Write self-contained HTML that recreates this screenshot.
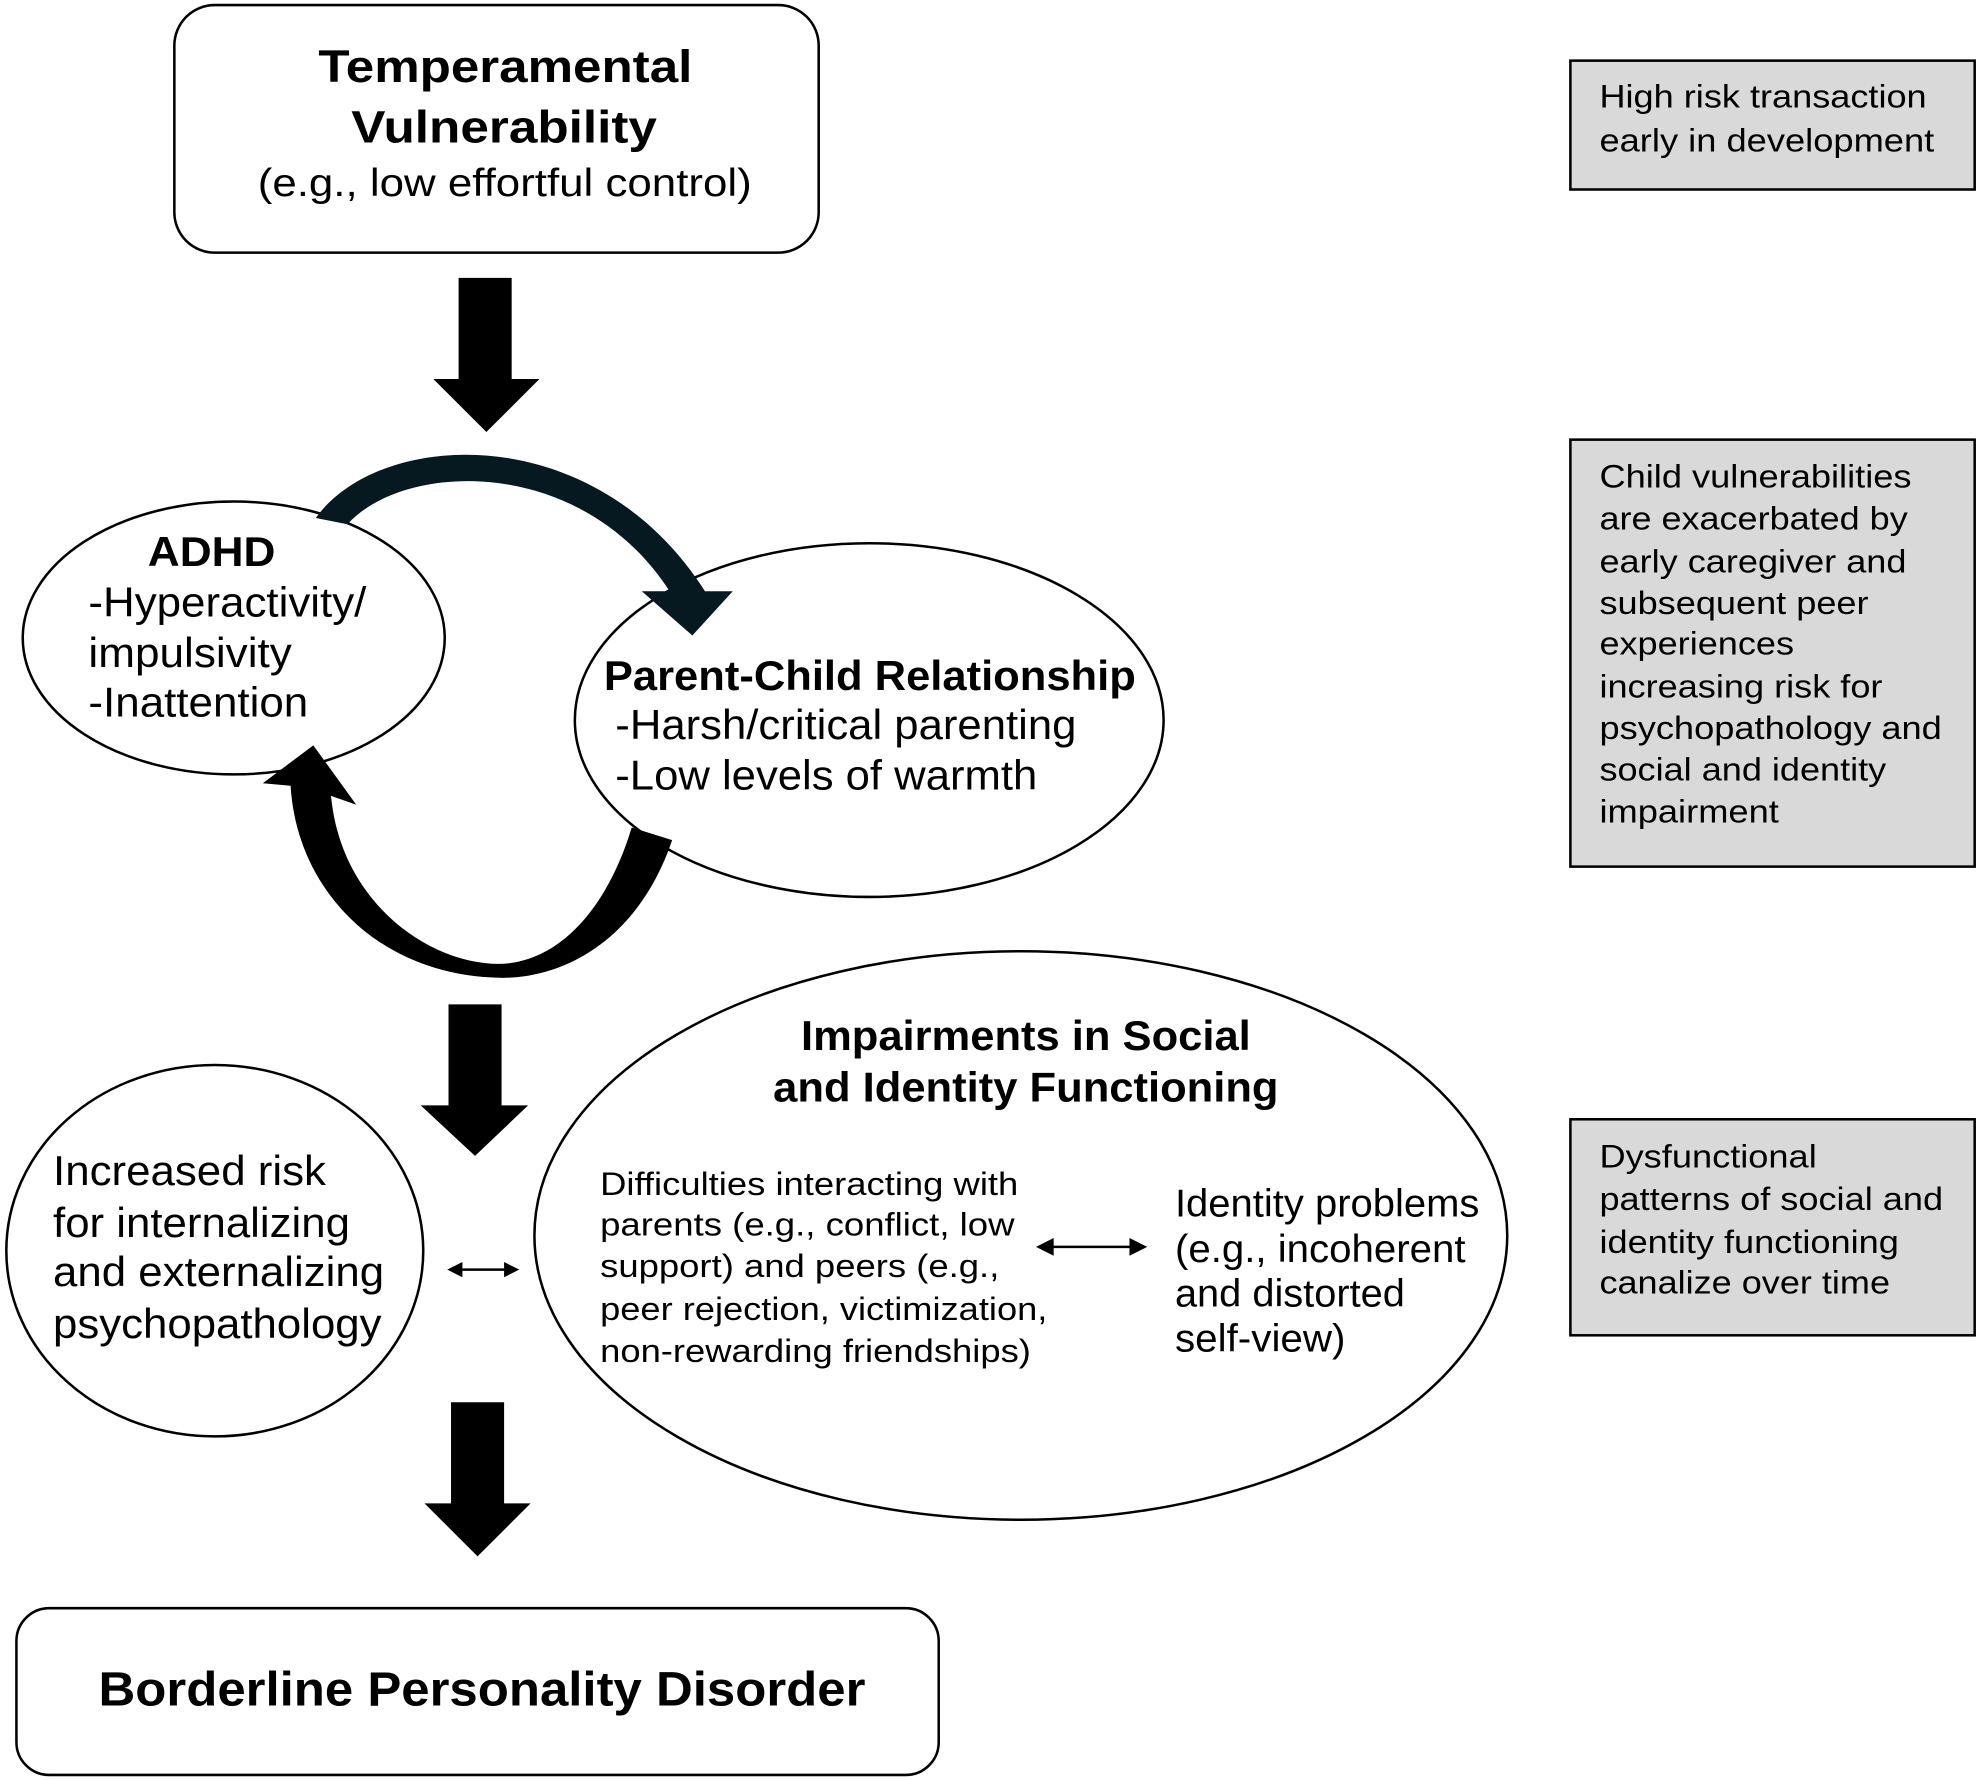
<!DOCTYPE html>
<html><head><meta charset="utf-8"><style>
html,body{margin:0;padding:0;background:#fff;}
svg{display:block;}
text{font-family:"Liberation Sans",Arial,sans-serif;fill:#000;}
.b{font-weight:bold;}
</style></head><body>
<svg width="1981" height="1780" viewBox="0 0 1568 1409" preserveAspectRatio="none" xmlns="http://www.w3.org/2000/svg">
<rect x="0" y="0" width="1568" height="1409" fill="#fff"/>
<rect x="138" y="4" width="510" height="196" rx="32" fill="#fff" stroke="#000" stroke-width="2"/>
<text class="b" x="252" y="65" font-size="36" textLength="296" lengthAdjust="spacingAndGlyphs">Temperamental</text>
<text class="b" x="278" y="113" font-size="36" textLength="242" lengthAdjust="spacingAndGlyphs">Vulnerability</text>
<text x="204" y="155" font-size="31" textLength="391" lengthAdjust="spacingAndGlyphs">(e.g., low effortful control)</text>
<polygon points="363,220 405,220 405,300 427,300 385,342 343,300 363,300" fill="#000"/>
<rect x="1243" y="48" width="320" height="102" fill="#d9d9d9" stroke="#000" stroke-width="2"/>
<text x="1266" y="85" font-size="26" textLength="259" lengthAdjust="spacingAndGlyphs">High risk transaction</text>
<text x="1266" y="120" font-size="26" textLength="265" lengthAdjust="spacingAndGlyphs">early in development</text>
<rect x="1243" y="348" width="320" height="338" fill="#d9d9d9" stroke="#000" stroke-width="2"/>
<g font-size="26">
<text x="1266" y="386" textLength="247" lengthAdjust="spacingAndGlyphs">Child vulnerabilities</text>
<text x="1266" y="419" textLength="244" lengthAdjust="spacingAndGlyphs">are exacerbated by</text>
<text x="1266" y="453" textLength="243" lengthAdjust="spacingAndGlyphs">early caregiver and</text>
<text x="1266" y="486" textLength="213" lengthAdjust="spacingAndGlyphs">subsequent peer</text>
<text x="1266" y="518" textLength="154" lengthAdjust="spacingAndGlyphs">experiences</text>
<text x="1266" y="552" textLength="224" lengthAdjust="spacingAndGlyphs">increasing risk for</text>
<text x="1266" y="585" textLength="271" lengthAdjust="spacingAndGlyphs">psychopathology and</text>
<text x="1266" y="618" textLength="227" lengthAdjust="spacingAndGlyphs">social and identity</text>
<text x="1266" y="651" textLength="142" lengthAdjust="spacingAndGlyphs">impairment</text>
</g>
<rect x="1243" y="886" width="320" height="171" fill="#d9d9d9" stroke="#000" stroke-width="2"/>
<g font-size="26">
<text x="1266" y="924" textLength="172" lengthAdjust="spacingAndGlyphs">Dysfunctional</text>
<text x="1266" y="958" textLength="272" lengthAdjust="spacingAndGlyphs">patterns of social and</text>
<text x="1266" y="992" textLength="237" lengthAdjust="spacingAndGlyphs">identity functioning</text>
<text x="1266" y="1024" textLength="230" lengthAdjust="spacingAndGlyphs">canalize over time</text>
</g>
<ellipse cx="185" cy="505" rx="167" ry="108" fill="#fff" stroke="#000" stroke-width="2"/>
<ellipse cx="688" cy="570" rx="233" ry="140" fill="#fff" stroke="#000" stroke-width="2"/>
<path d="M250,410 C300,340 470,330 558,468 L580,468 L548,503 L508,468 L530,468 C460,360 320,365 275,415 Z" fill="#061820"/>
<path d="M532,665 C505,745 445,775 395,774 C300,772 235,705 230,622 L208,620 L248,590 L282,637 L262,630 C270,715 340,763 395,763 C445,762 482,715 500,655 Z" fill="#000"/>
<text class="b" x="117" y="448" font-size="33" textLength="101" lengthAdjust="spacingAndGlyphs">ADHD</text>
<text x="70" y="488" font-size="33" textLength="220" lengthAdjust="spacingAndGlyphs">-Hyperactivity/</text>
<text x="70" y="528" font-size="33" textLength="161" lengthAdjust="spacingAndGlyphs">impulsivity</text>
<text x="70" y="567" font-size="33" textLength="174" lengthAdjust="spacingAndGlyphs">-Inattention</text>
<text class="b" x="478" y="546" font-size="33" textLength="421" lengthAdjust="spacingAndGlyphs">Parent-Child Relationship</text>
<text x="487" y="585" font-size="33" textLength="365" lengthAdjust="spacingAndGlyphs">-Harsh/critical parenting</text>
<text x="487" y="625" font-size="33" textLength="334" lengthAdjust="spacingAndGlyphs">-Low levels of warmth</text>
<polygon points="355,795 397,795 397,875 418,875 376,915 333,875 355,875" fill="#000"/>
<ellipse cx="170" cy="990" rx="165" ry="147" fill="#fff" stroke="#000" stroke-width="2"/>
<text x="42" y="938" font-size="33" textLength="216" lengthAdjust="spacingAndGlyphs">Increased risk</text>
<text x="42" y="979" font-size="33" textLength="235" lengthAdjust="spacingAndGlyphs">for internalizing</text>
<text x="42" y="1018" font-size="33" textLength="262" lengthAdjust="spacingAndGlyphs">and externalizing</text>
<text x="42" y="1059" font-size="33" textLength="260" lengthAdjust="spacingAndGlyphs">psychopathology</text>
<line x1="362" y1="1005" x2="403" y2="1005" stroke="#000" stroke-width="2"/>
<polygon points="354,1005 366,999 366,1011" fill="#000"/>
<polygon points="411,1005 399,999 399,1011" fill="#000"/>
<ellipse cx="808" cy="978" rx="385" ry="225" fill="#fff" stroke="#000" stroke-width="2"/>
<text class="b" x="634" y="831" font-size="33" textLength="356" lengthAdjust="spacingAndGlyphs">Impairments in Social</text>
<text class="b" x="612" y="872" font-size="33" textLength="400" lengthAdjust="spacingAndGlyphs">and Identity Functioning</text>
<g font-size="26">
<text x="475" y="946" textLength="331" lengthAdjust="spacingAndGlyphs">Difficulties interacting with</text>
<text x="475" y="978" textLength="328" lengthAdjust="spacingAndGlyphs">parents (e.g., conflict, low</text>
<text x="475" y="1011" textLength="316" lengthAdjust="spacingAndGlyphs">support) and peers (e.g.,</text>
<text x="475" y="1045" textLength="354" lengthAdjust="spacingAndGlyphs">peer rejection, victimization,</text>
<text x="475" y="1078" textLength="341" lengthAdjust="spacingAndGlyphs">non-rewarding friendships)</text>
</g>
<line x1="830" y1="987" x2="898" y2="987" stroke="#000" stroke-width="2"/>
<polygon points="820,987 834,980 834,994" fill="#000"/>
<polygon points="908,987 894,980 894,994" fill="#000"/>
<g font-size="31">
<text x="930" y="963" textLength="241" lengthAdjust="spacingAndGlyphs">Identity problems</text>
<text x="930" y="999" textLength="230" lengthAdjust="spacingAndGlyphs">(e.g., incoherent</text>
<text x="930" y="1034" textLength="182" lengthAdjust="spacingAndGlyphs">and distorted</text>
<text x="930" y="1070" textLength="135" lengthAdjust="spacingAndGlyphs">self-view)</text>
</g>
<polygon points="357,1110 399,1110 399,1190 420,1190 378,1232 336,1190 357,1190" fill="#000"/>
<rect x="13" y="1273" width="730" height="132" rx="26" fill="#fff" stroke="#000" stroke-width="2"/>
<text class="b" x="78" y="1350" font-size="38" textLength="607" lengthAdjust="spacingAndGlyphs">Borderline Personality Disorder</text>
</svg>
</body></html>
